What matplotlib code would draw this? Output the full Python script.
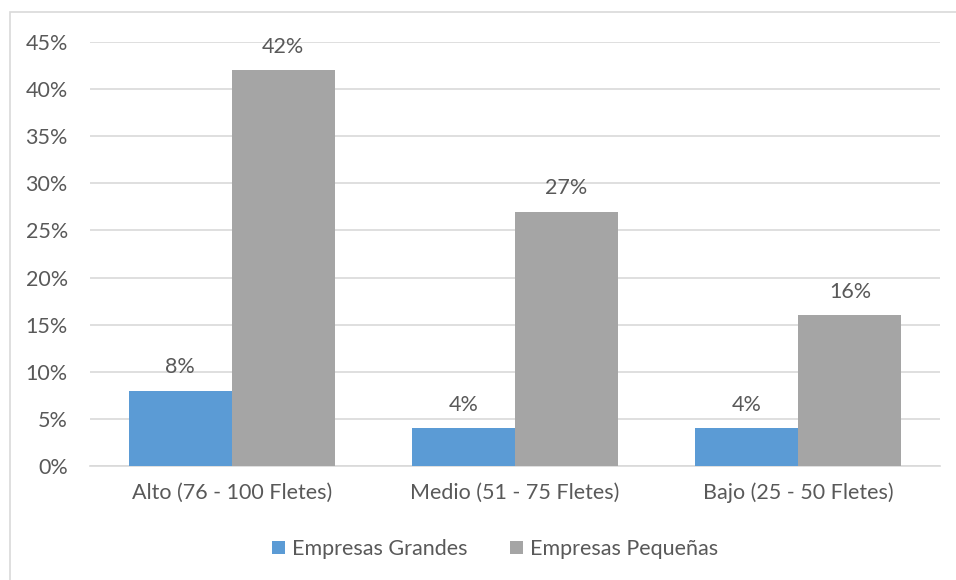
import matplotlib
matplotlib.use("Agg")
import matplotlib.pyplot as plt
from matplotlib.patches import Rectangle, Patch
import numpy as np

categories = ["Alto (76 - 100 Fletes)", "Medio (51 - 75 Fletes)", "Bajo (25 - 50 Fletes)"]
series_names = ["Empresas Grandes", "Empresas Pequeñas"]
grandes = [8, 4, 4]
pequenas = [42, 27, 16]
yticks = [0, 5, 10, 15, 20, 25, 30, 35, 40, 45]

colors = ["#5B9BD5", "#A5A5A5"]
text_color = "#595959"
grid_color = "#D9D9D9"
fs = 15.5

plt.rcParams["font.family"] = ["Lato", "DejaVu Sans"]

fig = plt.figure(figsize=(9.56, 5.8), dpi=100)
ax = fig.add_axes([90 / 956, 114 / 580, 850 / 956, 424 / 580])

x = np.arange(len(categories))
w = 0.364
bars1 = ax.bar(x - w / 2, grandes, w, color=colors[0], zorder=3)
bars2 = ax.bar(x + w / 2, pequenas, w, color=colors[1], zorder=3)

for bars, vals in ((bars1, grandes), (bars2, pequenas)):
    for b, v in zip(bars, vals):
        ax.annotate(f"{v}%", (b.get_x() + b.get_width() / 2, v),
                    xytext=(0, 17), textcoords="offset points",
                    ha="center", va="center", fontsize=fs, color=text_color)

ax.set_xlim(-0.5, len(categories) - 0.5)
ax.set_ylim(0, 45)
ax.set_yticks(yticks)
ax.set_yticklabels([f"{t}%" for t in yticks])
ax.set_xticks(x)
ax.set_xticklabels(categories)
ax.tick_params(axis="both", length=0, labelsize=fs, labelcolor=text_color)
ax.tick_params(axis="y", pad=16)
ax.tick_params(axis="x", pad=12)
ax.yaxis.grid(True, color=grid_color, linewidth=1.2, zorder=0)
for s in ("top", "right", "left"):
    ax.spines[s].set_visible(False)
ax.spines["bottom"].set_color(grid_color)
ax.spines["bottom"].set_linewidth(1.2)

handles = [Patch(facecolor=c, label=n) for c, n in zip(colors, series_names)]
fig.legend(handles=handles, loc="center", bbox_to_anchor=(495 / 956, 1 - 549 / 580),
           ncol=2, frameon=False, fontsize=fs, labelcolor=text_color,
           handlelength=0.6, handleheight=0.6, handletextpad=0.3, columnspacing=2.0)

fig.patches.append(Rectangle((9.5 / 956, -0.1), 2, 568.5 / 580 + 0.1,
                             transform=fig.transFigure, fill=False,
                             edgecolor=grid_color, linewidth=1.2))

fig.savefig("out.png", dpi=100)
